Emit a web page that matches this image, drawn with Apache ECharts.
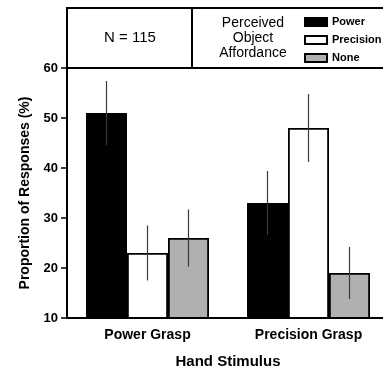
<!DOCTYPE html>
<html>
<head>
<meta charset="utf-8">
<style>
  html, body { margin: 0; padding: 0; background: #fff; }
  #main { width: 383px; height: 367px; }
</style>
<script src="https://cdn.jsdelivr.net/npm/echarts@6/dist/echarts.min.js"></script>
</head>
<body>
<div id="main"></div>
<script>
const FONT = "'Liberation Sans', Arial, sans-serif";

const categories = ["Power Grasp", "Precision Grasp"];
const affordances = ["Power", "Precision", "None"];
const power = [51, 33];
const precision = [23, 48];
const none = [26, 19];
// half-length of each error bar
const powerErr = [6.4, 6.4];
const precisionErr = [5.5, 6.8];
const noneErr = [5.7, 5.2];
const yTicks = [10, 20, 30, 40, 50, 60];

const colors = ["#000000", "#ffffff", "#b0b0b0"];
const means = [power, precision, none];
const errs = [powerErr, precisionErr, noneErr];
const GAP = 0.236;

const barSeries = affordances.map((name, i) => ({
  name,
  type: "bar",
  data: means[i],
  barGap: "0%",
  barCategoryGap: GAP * 100 + "%",
  itemStyle: { color: colors[i], borderColor: "#000", borderWidth: 1.8 },
  z: 2
}));

const errData = [];
affordances.forEach((name, s) => {
  categories.forEach((c, k) => {
    errData.push([k, means[s][k], errs[s][k], s]);
  });
});

const errorSeries = {
  type: "custom",
  data: errData,
  z: 5,
  silent: true,
  renderItem: function (params, api) {
    const k = api.value(0);
    const m = api.value(1);
    const e = api.value(2);
    const s = api.value(3);
    const band = api.size([1, 0])[0];
    const barW = band * (1 - GAP) / 3;
    const dx = (s - 1) * barW;
    const top = api.coord([k, m + e]);
    const bot = api.coord([k, m - e]);
    return {
      type: "line",
      shape: { x1: top[0] + dx, y1: top[1], x2: bot[0] + dx, y2: bot[1] },
      style: { stroke: "#3a3a3a", lineWidth: 1.2 }
    };
  }
};

const chart = echarts.init(document.getElementById("main"), null, { renderer: "canvas" });
chart.setOption({
  animation: false,
  backgroundColor: "#fff",
  textStyle: { fontFamily: FONT },
  grid: { left: 67, top: 68, right: -6, bottom: 49, outerBoundsMode: "none", containLabel: false },
  legend: {
    data: affordances,
    orient: "vertical",
    left: 304,
    top: 16,
    padding: 0,
    itemWidth: 22,
    itemHeight: 8,
    itemGap: 6,
    icon: "rect",
    textStyle: { fontFamily: FONT, fontWeight: "bold", fontSize: 11, color: "#000", lineHeight: 12 }
  },
  xAxis: {
    type: "category",
    data: categories,
    axisLine: { lineStyle: { color: "#000", width: 2 } },
    axisTick: { alignWithLabel: true, length: 6, lineStyle: { color: "#000", width: 1.5 } },
    axisLabel: { color: "#000", fontWeight: "bold", fontSize: 14, margin: 10, fontFamily: FONT },
    name: "Hand Stimulus",
    nameLocation: "middle",
    nameGap: 36,
    nameTextStyle: { color: "#000", fontWeight: "bold", fontSize: 15, fontFamily: FONT }
  },
  yAxis: {
    type: "value",
    min: 10,
    max: 60,
    interval: 10,
    axisLine: { show: true, lineStyle: { color: "#000", width: 2 } },
    axisTick: { show: true, length: 6, lineStyle: { color: "#000", width: 1.5 } },
    axisLabel: {
      color: "#000", fontWeight: "bold", fontSize: 13, margin: 9, fontFamily: FONT,
      formatter: v => (yTicks.includes(v) ? String(v) : "")
    },
    splitLine: { show: false },
    name: "Proportion of Responses (%)",
    nameLocation: "middle",
    nameGap: 34,
    nameTextStyle: { color: "#000", fontWeight: "bold", fontSize: 14, fontFamily: FONT }
  },
  graphic: [
    {
      type: "rect",
      shape: { x: 67, y: 8, width: 330, height: 60 },
      style: { fill: null, stroke: "#000", lineWidth: 2 },
      z: 10
    },
    {
      type: "line",
      shape: { x1: 192, y1: 8, x2: 192, y2: 68 },
      style: { stroke: "#000", lineWidth: 2 },
      z: 10
    },
    {
      type: "text",
      x: 130, y: 38,
      style: {
        text: "N = 115", fill: "#000", font: "15px " + FONT,
        align: "center", verticalAlign: "middle"
      },
      z: 10
    },
    {
      type: "text",
      x: 253, y: 38,
      style: {
        text: "Perceived\nObject\nAffordance", fill: "#000", font: "14px " + FONT,
        lineHeight: 15, align: "center", verticalAlign: "middle"
      },
      z: 10
    }
  ],
  series: [...barSeries, errorSeries]
});
</script>
</body>
</html>
